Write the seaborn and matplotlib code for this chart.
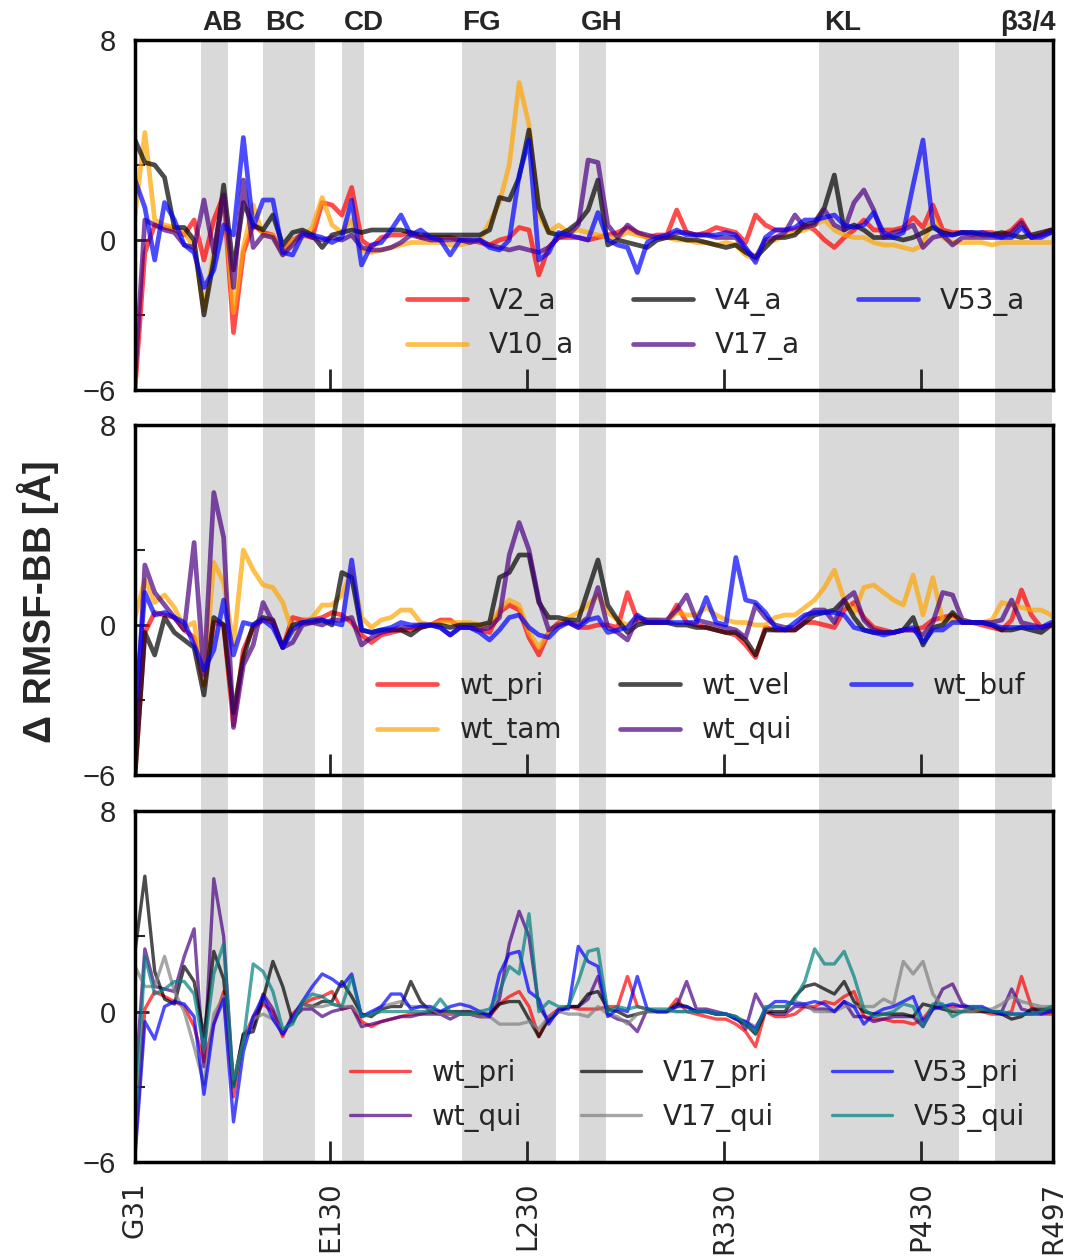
import matplotlib
matplotlib.use("Agg")
import matplotlib.pyplot as plt
import matplotlib.transforms as mtransforms
import seaborn as sns

sns.set_theme(style="white")
plt.rcParams["font.family"] = ["DejaVu Sans"]

# residue positions (every 5th residue)
residues = list(range(31, 497, 5)) + [497]

# ---- panel 1: variants, apo ----
v2_a = [-6.0, -0.5, 0.6, 0.5, 0.4, 0.2, 0.8, -0.8, 0.8, 1.8,
        -3.7, -0.5, 0.6, 0.3, 0.2, -0.5, 0.0, 0.2, 0.1, 1.5,
        1.4, 1.0, 2.1, 0.0, -0.3, 0.1, 0.2, 0.2, 0.3, 0.1,
        0.1, 0.1, 0.1, 0.0, 0.0, -0.1, -0.2, 0.0, 0.1, 0.5,
        0.4, -1.4, -0.3, 0.1, 0.1, 0.1, 0.0, 0.1, 0.2, 0.3,
        0.5, 0.3, 0.1, 0.2, 0.2, 1.2, 0.3, 0.2, 0.3, 0.5,
        0.4, 0.3, -0.1, 1.0, 0.6, 0.4, 0.4, 0.4, 0.6, 0.4,
        0.0, -0.3, 0.1, 0.4, 0.8, 0.4, 0.4, 0.4, 0.5, 0.9,
        0.5, 1.4, 0.4, 0.3, 0.3, 0.2, 0.3, 0.3, 0.2, 0.4,
        0.8, 0.1, 0.2, 0.4, 0.4]
v10_a = [1.0, 4.3, 0.8, 0.6, 0.5, 0.3, -0.3, -2.8, -0.5, 1.8,
         -2.9, -0.3, 1.4, 0.2, 0.2, -0.6, 0.0, 0.1, 0.5, 1.7,
         0.6, 0.3, 0.8, -0.4, -0.5, -0.4, -0.3, -0.2, -0.1, -0.1,
         -0.1, -0.1, -0.2, -0.2, -0.1, 0.0, 0.7, 1.5, 3.0, 6.3,
         4.6, 1.0, 0.3, 0.6, 0.3, 0.4, 0.3, 0.2, 0.1, 0.1,
         0.3, 0.2, 0.1, 0.1, 0.1, 0.0, 0.0, -0.1, -0.1, -0.2,
         -0.1, -0.2, -0.6, -0.8, -0.1, 0.0, 0.2, 0.3, 0.4, 0.6,
         0.8, 0.4, 0.2, 0.1, 0.1, -0.1, -0.2, -0.2, -0.3, -0.4,
         -0.2, 0.9, 0.1, -0.1, -0.1, -0.1, -0.1, -0.2, -0.1, -0.1,
         -0.1, -0.1, -0.1, -0.1, -0.1]
v4_a = [4.0, 3.1, 3.0, 2.5, 0.5, 0.5, 0.0, -3.0, -0.8, 2.2,
        -1.2, 1.5, 0.6, 0.4, 1.0, -0.2, 0.3, 0.4, 0.2, -0.3,
        0.2, 0.3, 0.4, 0.3, 0.4, 0.4, 0.4, 0.4, 0.3, 0.2,
        0.2, 0.2, 0.2, 0.2, 0.2, 0.2, 0.4, 1.7, 1.6, 2.5,
        4.4, 1.3, 0.3, 0.2, 0.4, 0.7, 1.2, 2.4, -0.2, 0.0,
        -0.1, -0.2, -0.3, 0.0, 0.1, 0.1, 0.0, 0.0, -0.1, -0.2,
        -0.3, -0.2, -0.5, -0.7, -0.3, 0.1, 0.1, 0.2, 0.6, 0.7,
        1.3, 2.6, 0.4, 0.6, 0.4, 0.1, 0.1, 0.1, 0.0, 0.1,
        0.3, 0.5, 0.3, 0.2, 0.3, 0.3, 0.2, 0.2, 0.3, 0.2,
        0.1, 0.2, 0.3, 0.4, 0.4]
v17_a = [-5.5, 0.8, 0.6, 0.4, 0.3, -0.2, -0.3, 1.6, -0.5, 1.8,
         -1.9, 2.4, -0.3, 0.2, 0.1, -0.6, -0.2, 0.3, 0.1, 0.0,
         0.1, 0.0, 0.2, -0.3, -0.4, -0.4, -0.3, -0.1, 0.2, 0.1,
         0.0, 0.0, 0.0, 0.0, -0.1, 0.0, -0.2, -0.3, -0.4, -0.3,
         -0.4, -0.5, -0.3, 0.1, 0.2, 0.6, 3.2, 3.1, 0.6, 0.1,
         0.6, 0.3, 0.2, 0.1, 0.1, 0.3, 0.3, 0.2, 0.2, 0.1,
         0.1, 0.1, -0.4, -0.7, 0.0, 0.1, 0.3, 1.0, 0.5, 0.6,
         1.2, 0.6, 0.4, 1.5, 2.0, 1.2, 0.1, 0.3, 0.4, 0.6,
         -0.3, 0.1, 0.2, -0.2, 0.1, 0.1, 0.1, 0.1, 0.1, 0.3,
         0.7, 0.1, 0.2, 0.3, 0.3]
v53_a = [2.4, 1.3, -0.8, 1.5, 0.8, -0.2, -0.5, -1.9, -1.2, 0.6,
         0.2, 4.1, 0.5, 1.6, 1.6, -0.5, -0.6, 0.2, 0.2, 0.1,
         -0.1, 0.1, 1.6, -1.0, -0.2, -0.1, 0.4, 1.0, 0.2, 0.4,
         0.1, 0.0, -0.6, 0.0, 0.0, 0.0, -0.3, -0.4, 0.0, 2.6,
         4.0, -0.8, -0.5, 0.3, 0.2, 0.1, 0.0, 1.1, 0.0, -0.2,
         -0.3, -1.3, -0.1, 0.1, 0.2, 0.4, 0.2, 0.2, 0.2, 0.2,
         0.3, 0.2, -0.3, -0.9, 0.1, 0.4, 0.4, 0.5, 0.8, 0.8,
         0.9, 1.0, 0.6, 0.5, 0.6, 1.1, 0.3, 0.1, 0.3, 2.2,
         4.0, 0.6, 0.2, 0.2, 0.3, 0.3, 0.3, 0.2, 0.1, 0.1,
         0.5, 0.1, 0.1, 0.3, 0.3]

# ---- panel 2: wild type, ligands ----
wt_pri = [-6.0, -0.3, 0.5, 0.4, 0.3, -0.2, -0.5, -2.4, 0.1, 0.0,
          -4.0, -1.0, -0.1, 0.2, 0.1, -0.9, 0.3, 0.2, 0.2, 0.3,
          0.5, 0.4, 0.1, -0.4, -0.7, -0.4, -0.3, -0.2, -0.2, -0.1,
          0.0, 0.2, 0.2, -0.1, -0.1, -0.2, -0.3, 0.5, 0.8, 0.6,
          -0.5, -1.2, -0.3, 0.1, 0.1, -0.1, -0.1, 0.0, 0.0, -0.1,
          1.3, 0.2, 0.1, 0.1, 0.1, 0.8, 0.1, 0.0, -0.1, -0.2,
          -0.3, -0.4, -0.8, -1.3, -0.1, -0.2, -0.2, -0.2, 0.1, 0.1,
          0.0, -0.1, 0.6, 0.9, 0.3, -0.1, -0.2, -0.3, -0.2, -0.2,
          -0.1, 0.2, 0.3, 0.4, 0.1, 0.1, 0.0, -0.1, -0.2, 0.2,
          1.4, 0.4, -0.1, 0.0, 0.0]
wt_tam = [0.3, 1.8, 0.9, 1.2, 0.7, -0.1, 0.1, -2.4, 2.5, 1.7,
          -0.8, 3.0, 2.2, 1.6, 1.5, 0.9, -0.3, 0.1, 0.3, 0.8,
          0.8, 1.2, 2.2, 0.3, -0.1, 0.2, 0.3, 0.6, 0.6, 0.1,
          0.0, 0.1, 0.1, 0.1, 0.1, 0.0, 0.0, 0.6, 1.0, 0.8,
          -0.3, -0.9, -0.3, 0.0, 0.3, 0.5, 0.8, 1.2, 0.5, 0.2,
          0.0, 0.3, 0.2, 0.2, 0.1, 0.5, 0.4, 0.4, 0.7, 0.4,
          0.2, 0.1, 0.1, 0.0, 0.0, 0.3, 0.4, 0.4, 0.7, 1.0,
          1.5, 2.2, 1.0, 0.5, 1.5, 1.6, 1.3, 1.0, 0.8, 2.0,
          0.4, 1.9, 0.2, 0.2, 0.2, 0.1, 0.1, 0.2, 0.9, 0.8,
          0.7, 0.6, 0.6, 0.4, 0.3]
wt_vel = [-6.0, -0.3, -1.2, 0.3, -0.3, -0.6, -0.9, -2.8, 0.3, 0.0,
          -3.5, -1.3, 0.0, 0.3, 0.2, -0.9, 0.0, 0.1, 0.1, 0.2,
          0.0, 2.1, 1.9, -0.2, -0.3, -0.2, -0.2, -0.2, -0.4, -0.1,
          0.0, 0.0, -0.1, 0.0, 0.0, 0.0, 0.1, 1.9, 2.1, 2.8,
          2.8, 0.9, 0.3, 0.3, 0.2, 0.2, 1.4, 2.6, 0.8, 0.2,
          -0.3, 0.0, 0.1, 0.1, 0.1, 0.0, 0.0, -0.1, -0.1, -0.2,
          -0.3, -0.3, -0.6, -1.2, -0.2, -0.2, -0.2, -0.2, 0.1, 0.4,
          0.5, 0.6, 1.0, 0.3, -0.2, -0.3, -0.3, -0.3, -0.2, 0.3,
          -0.8, -0.1, 0.0, 0.5, 0.1, 0.1, 0.1, 0.0, -0.2, -0.2,
          -0.1, -0.2, -0.3, 0.0, 0.0]
wt_qui = [-5.0, 2.4, 1.3, 0.8, 0.3, -0.2, 3.3, -2.0, 5.3, 3.5,
          -4.1, -1.6, -0.8, 0.9, 0.1, -0.9, -0.7, 0.0, 0.1, 0.0,
          0.2, 0.2, 0.3, -0.8, -0.5, -0.3, -0.2, -0.1, -0.1, 0.0,
          0.0, -0.1, -0.4, -0.1, -0.1, -0.2, -0.1, 0.3, 2.8, 4.1,
          3.0, 1.0, -0.2, 0.0, 0.1, 0.0, 0.3, 1.5, -0.1, -0.3,
          -0.6, 0.3, 0.2, 0.2, 0.2, 0.6, 1.2, 0.2, 0.1, 0.0,
          -0.1, -0.2, -0.5, 0.8, 0.3, 0.0, -0.1, -0.1, 0.3, 0.6,
          0.6, 0.1, 1.0, 1.3, 0.2, -0.2, -0.3, -0.3, -0.2, -0.2,
          -0.4, 0.1, 1.3, 1.2, 0.2, 0.1, 0.1, 0.1, 0.2, 1.0,
          0.1, 0.0, -0.1, 0.0, 0.0]
wt_buf = [-3.5, 1.3, 0.4, 0.5, 0.3, 0.1, -0.8, -1.8, -1.0, 1.0,
          -1.2, 0.1, 0.0, 0.2, -0.1, -0.9, -0.2, 0.1, 0.2, 0.2,
          0.1, 0.0, 2.6, -0.2, -0.3, -0.2, -0.1, 0.1, 0.0, 0.0,
          0.0, -0.1, -0.4, -0.1, -0.1, -0.3, -0.6, -0.2, 0.3, 0.4,
          -0.1, -0.4, -0.5, -0.1, 0.1, -0.1, 0.2, 0.3, -0.3, -0.2,
          -0.1, 0.4, 0.1, 0.1, 0.1, 0.1, 0.1, 0.1, 1.1, 0.1,
          0.0, 2.7, 1.0, 0.9, 0.5, -0.1, -0.2, 0.1, 0.4, 0.5,
          0.5, 0.5, 0.4, -0.1, -0.2, -0.3, -0.4, -0.3, -0.2, -0.1,
          -0.7, -0.2, -0.2, 0.1, 0.1, 0.1, 0.1, 0.0, -0.1, -0.1,
          -0.1, -0.1, -0.1, 0.1, 0.1]

# ---- panel 3: wild type vs variants, pri / qui ----
wt_pri_3 = [-5.5, 0.1, 0.8, 0.6, 0.4, 0.2, -0.6, -2.0, -0.5, 0.8,
            -3.4, -1.1, -0.2, 0.3, 0.0, -1.0, -0.1, 0.3, 0.5, 0.6,
            0.8, 0.1, 0.2, -0.4, -0.6, -0.4, -0.3, -0.2, -0.1, -0.1,
            0.0, -0.1, -0.1, -0.1, -0.1, -0.2, -0.2, 0.3, 0.6, 0.8,
            0.2, -1.0, -0.2, 0.1, 0.2, 0.1, 0.1, 0.1, 0.2, 0.2,
            1.4, 0.2, 0.1, 0.0, 0.0, 0.5, 0.0, -0.1, -0.2, -0.3,
            -0.3, -0.5, -0.8, -1.4, 0.0, -0.2, -0.2, -0.1, 0.2, 0.2,
            0.4, 0.3, 0.6, 0.8, -0.2, -0.3, -0.3, -0.4, -0.4, -0.5,
            -0.3, 0.2, 0.2, 0.2, 0.2, 0.1, 0.0, -0.1, -0.1, 0.0,
            1.4, 0.2, -0.1, -0.1, -0.1]
wt_qui_3 = [-3.0, 2.5, 1.0, 0.9, 0.8, 2.2, 3.3, -2.2, 5.3, 3.0,
            -3.0, -0.9, -0.6, 0.7, 0.1, -0.9, -0.3, 0.1, 0.1, -0.2,
            0.0, 0.1, 0.2, -0.6, -0.5, -0.4, -0.3, -0.2, -0.2, -0.1,
            -0.1, -0.1, -0.3, -0.1, -0.1, -0.2, -0.2, 0.5, 2.7, 4.0,
            3.0, 0.2, -0.4, 0.0, 0.2, 0.2, 0.5, 1.4, -0.1, -0.3,
            -0.4, -0.8, 0.1, 0.0, 0.0, 0.2, 1.2, 0.1, 0.1, 0.0,
            -0.1, -0.2, -0.7, 0.7, 0.0, -0.1, -0.1, 0.2, 0.2, 0.1,
            0.1, 0.0, 0.4, -0.2, -0.2, -0.4, -0.3, -0.2, -0.2, -0.2,
            -0.6, 0.1, 0.9, 1.1, 0.3, 0.1, 0.1, 0.0, 0.0, 0.9,
            0.1, 0.0, 0.0, 0.0, 0.0]
v17_pri = [2.4, 5.4, 1.6, 0.5, 0.3, 1.8, 1.2, -1.0, 2.4, 1.3,
           -2.9, -0.9, -0.8, 0.5, 2.0, 1.0, -0.4, 0.3, 0.2, 0.4,
           0.4, 1.2, 0.6, -0.1, -0.2, 0.1, 0.2, 0.2, 1.2, 0.4,
           0.0, 0.0, 0.0, 0.0, 0.0, -0.1, -0.1, 0.3, 0.4, 0.4,
           -0.3, -1.0, -0.3, 0.0, 0.2, 0.2, 0.7, 0.8, 0.1, 0.0,
           -0.2, -0.1, 0.0, 0.0, 0.0, 0.3, 0.2, 0.0, 0.0, -0.1,
           -0.1, -0.3, -0.5, -0.9, 0.0, 0.0, 0.0, 0.6, 1.0, 1.1,
           0.9, 0.7, 1.2, 0.4, 0.0, -0.1, -0.1, -0.1, -0.1, -0.2,
           0.3, 0.2, 0.1, 0.0, 0.0, 0.0, 0.0, 0.0, -0.1, -0.3,
           -0.2, 0.1, 0.1, 0.1, 0.1]
v17_qui = [1.8, 1.0, 1.0, 2.2, 0.8, 0.0, -1.4, -2.9, -0.1, 0.6,
           -2.7, -1.2, -0.3, -0.1, -0.3, -0.8, -0.3, 0.3, 0.2, 0.2,
           0.3, 0.2, 0.2, -0.2, -0.1, 0.2, 0.3, 0.4, 0.2, 0.2,
           0.1, -0.1, -0.1, -0.1, -0.1, -0.2, -0.2, -0.5, -0.5, -0.5,
           -0.4, -0.7, -0.2, 0.0, -0.1, -0.1, -0.2, 0.2, -0.1, -0.2,
           -0.5, -0.1, 0.0, 0.0, 0.0, 0.0, 0.0, 0.0, 0.0, -0.1,
           -0.1, -0.2, -0.4, -0.6, 0.0, 0.2, 0.2, 0.4, 0.3, 0.0,
           0.0, 0.0, 0.2, 0.2, 0.2, 0.2, 0.5, 0.3, 2.0, 1.5,
           2.0, 0.7, 0.2, 0.1, 0.0, 0.0, 0.1, 0.1, 0.3, 0.6,
           0.4, 0.3, 0.2, 0.2, 0.2]
v53_pri = [-5.8, -0.4, -1.1, 0.2, 0.4, 0.3, -0.2, -3.3, -0.5, 0.5,
           -4.4, -1.6, -0.2, 0.6, -0.3, -0.9, -0.2, 0.4, 1.0, 1.5,
           1.3, 1.0, 1.5, -0.2, 0.0, 0.2, 0.7, 0.7, 0.1, 0.2,
           0.2, 0.0, 0.2, 0.3, 0.2, 0.0, -0.2, 1.5, 2.3, 2.4,
           0.8, 0.5, -0.5, 0.1, 0.1, 2.6, 2.0, 1.8, -0.2, 0.1,
           0.0, 1.4, 0.1, 0.0, 0.0, 0.2, 0.2, 0.0, 0.0, -0.1,
           -0.1, -0.3, -0.4, -0.7, 0.1, 0.4, 0.4, 0.3, 0.3, 0.4,
           0.3, 0.0, 0.4, 0.2, -0.5, -0.1, 0.1, 0.2, 0.4, 0.6,
           -0.4, 0.1, 0.2, 0.3, 0.2, 0.2, 0.2, 0.0, -0.1, -0.1,
           -0.1, -0.1, -0.1, 0.0, 0.0]
v53_qui = [-5.0, 2.2, 0.7, 0.9, 1.2, 1.2, 0.7, -1.5, 1.5, 2.7,
           -3.0, -1.2, 1.9, 1.6, 0.8, -0.7, -0.5, 0.4, 0.7, 0.6,
           0.3, 0.2, 1.4, -0.2, -0.1, 0.0, 0.0, 0.0, 0.0, 0.0,
           0.0, 0.5, 0.0, -0.1, -0.1, 0.0, 0.1, 0.8, 1.8, 1.5,
           3.9, 0.0, 0.4, 0.2, 0.2, 1.2, 2.4, 2.5, 0.0, 0.2,
           0.1, 0.2, 0.1, 0.1, 0.1, 0.0, 0.0, 0.0, 0.0, -0.1,
           -0.1, -0.2, -0.5, -0.8, 0.2, 0.2, 0.2, 0.5, 1.2, 2.5,
           1.9, 1.9, 2.4, 1.4, 0.1, -0.2, -0.1, 0.0, 0.3, 0.2,
           -0.6, 0.3, 0.3, -0.2, 0.0, 0.2, 0.1, 0.0, 0.0, -0.1,
           -0.1, -0.1, 0.0, 0.2, 0.2]

# loop regions
band_names = ["AB", "BC", "CD", "FG", "GH", "KL", "\u03b23/4"]
band_edges = [(64.5, 78), (96, 122.5), (136, 147), (197, 244.5),
              (256.5, 270), (378, 449.5), (467.5, 496.5)]
band_label_x = [75.5, 107, 147, 207, 268, 390, 484]

xtick_pos = [31, 130, 230, 330, 430, 497]
xtick_labels = ["G31", "E130", "L230", "R330", "P430", "R497"]

panels = [
    (["V2_a", "V10_a", "V4_a", "V17_a", "V53_a"],
     [v2_a, v10_a, v4_a, v17_a, v53_a],
     ["red", "orange", "black", "indigo", "blue"], 3.4),
    (["wt_pri", "wt_tam", "wt_vel", "wt_qui", "wt_buf"],
     [wt_pri, wt_tam, wt_vel, wt_qui, wt_buf],
     ["red", "orange", "black", "indigo", "blue"], 3.4),
    (["wt_pri", "wt_qui", "V17_pri", "V17_qui", "V53_pri", "V53_qui"],
     [wt_pri_3, wt_qui_3, v17_pri, v17_qui, v53_pri, v53_qui],
     ["red", "indigo", "black", "gray", "blue", "teal"], 2.4),
]

W, H = 1081, 1260
left, width = 135 / W, 918 / W
frames = [(40, 390), (425, 775), (811, 1162)]

fig = plt.figure(figsize=(W / 100, H / 100), dpi=100)

# shaded loop regions run behind all three panels
bg = fig.add_axes([left, 1 - 1162 / H, width, (1162 - 40) / H], zorder=0)
bg.set_xlim(31, 497)
bg.set_ylim(0, 1)
bg.axis("off")
for a, b in band_edges:
    bg.axvspan(a, b, color="0.85", lw=0)

tr = mtransforms.blended_transform_factory(bg.transData, fig.transFigure)
for name, xpos in zip(band_names, band_label_x):
    bg.text(xpos, 1 - 23 / H, name, transform=tr, ha="center", va="center",
            fontsize=20, fontweight="bold", family=["Liberation Sans", "DejaVu Sans"])

for k, (labels, series, colors, lw) in enumerate(panels):
    top, bot = frames[k]
    ax = fig.add_axes([left, 1 - bot / H, width, (bot - top) / H], zorder=1)
    ax.set_facecolor("none")
    for name, vals, col in zip(labels, series, colors):
        sns.lineplot(x=residues, y=vals, color=col, alpha=0.7, linewidth=lw,
                     label=name, ax=ax)
    ax.set_xlim(31, 497)
    ax.set_ylim(-6, 8)
    ax.set_xticks(xtick_pos)
    ax.set_yticks([-6, 0, 8])
    ax.set_yticks([-3, 3], minor=True)
    ax.tick_params(axis="x", direction="in", length=15, width=2, top=False,
                   bottom=True, labelsize=20, pad=14, labelrotation=90)
    ax.tick_params(axis="y", which="major", direction="in", length=10, width=2,
                   left=True, right=False, labelsize=21, pad=14)
    ax.tick_params(axis="y", which="minor", direction="in", length=7, width=1.5,
                   left=True, right=False)
    for lbl in ax.get_yticklabels():
        lbl.set_family(["Liberation Sans", "DejaVu Sans"])
    if k < 2:
        ax.set_xticklabels([])
    else:
        ax.set_xticklabels(xtick_labels)
    for s in ax.spines.values():
        s.set_linewidth(2.5)
        s.set_color("black")
    ax.set_xlabel("")
    ax.set_ylabel("")
    ax.legend(ncol=3, loc="lower right", bbox_to_anchor=(0.97, 0.085),
              frameon=False, fontsize=20, handlelength=2.15, handletextpad=0.8,
              columnspacing=2.1, labelspacing=0.55, borderpad=0, borderaxespad=0)

fig.text(38 / W, 1 - 602 / H, "\u0394 RMSF-BB [\u00c5]", rotation=90,
         ha="center", va="center", fontsize=28, fontweight="bold",
         family=["Liberation Sans", "DejaVu Sans"])

fig.savefig("out.png", dpi=100)
